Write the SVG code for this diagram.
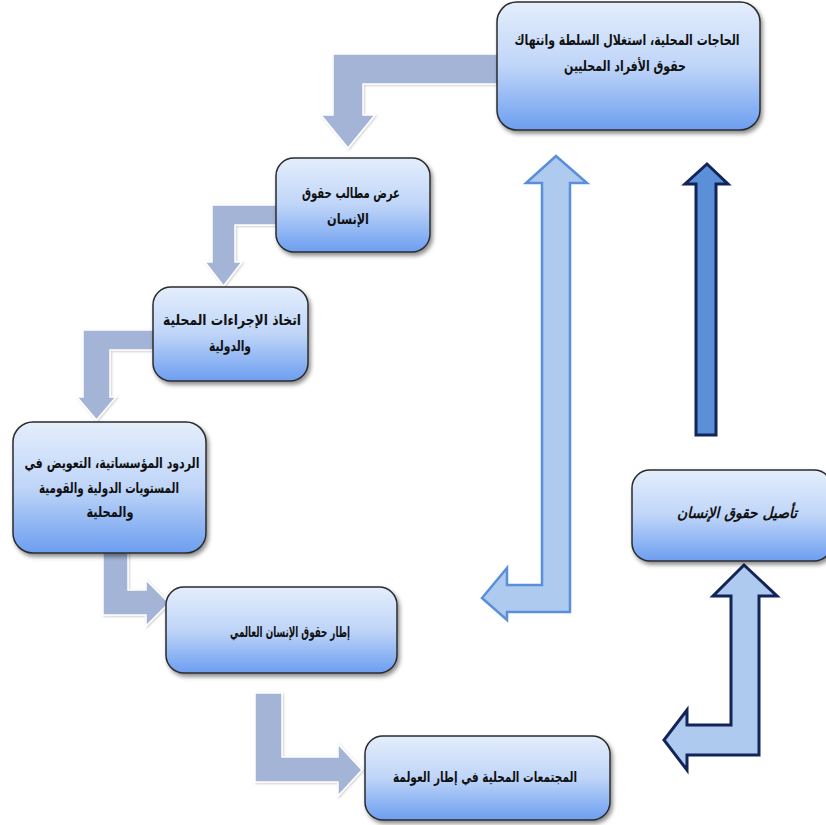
<svg xmlns="http://www.w3.org/2000/svg" width="826" height="825" viewBox="0 0 826 825">
<defs>
<linearGradient id="ng" x1="0" y1="0" x2="0" y2="1">
<stop offset="0" stop-color="#e4eefc"/>
<stop offset="0.5" stop-color="#bfd5f8"/>
<stop offset="1" stop-color="#6c9ef0"/>
</linearGradient>
<filter id="sh" x="-10%" y="-10%" width="130%" height="130%">
<feDropShadow dx="2" dy="3" stdDeviation="2" flood-color="#000" flood-opacity="0.45"/>
</filter>
<filter id="glow" x="-10%" y="-10%" width="130%" height="130%">
<feDropShadow dx="1" dy="1" stdDeviation="1" flood-color="#000" flood-opacity="0.2"/>
</filter>
</defs>
<style>
.node{fill:url(#ng);stroke:#2b2b2b;stroke-width:1.5;filter:url(#sh)}
.t{font-family:"DejaVu Sans","Noto Sans",sans-serif;font-weight:bold;font-size:15px;fill:#111;text-anchor:middle}
.it{font-style:italic}
.ga{fill:#a3b4d6;stroke:#ffffff;stroke-width:1.5;filter:url(#glow)}
.la{fill:#aecaee;stroke:#5a8fd9;stroke-width:2.5;stroke-linejoin:miter}
.da{fill:#5b8fd8;stroke:#13245a;stroke-width:3;stroke-linejoin:miter}
.dl{fill:#aecaee;stroke:#13245a;stroke-width:3;stroke-linejoin:miter}
</style>
<rect width="826" height="825" fill="#ffffff"/>
<g id="connectors">
<polygon class="ga" points="505,54 333,54 333,115 321,115 348,148 375,115 363,115 363,84 505,84"/>
<polygon class="ga" points="282,205 212,205 212,262 205,262 223.5,286 242,262 235,262 235,225 282,225"/>
<polygon class="ga" points="158,330 83,330 83,397 77,397 96.5,420 116,397 110,397 110,350 158,350"/>
<polygon class="ga" points="103,548 128,548 128,590 146,590 146,580 169,603 146,626 146,615 103,615"/>
<polygon class="ga" points="255,693 282,693 282,757 338,757 338,744 362,770 338,796 338,782 255,782"/>
<polygon class="la" points="556,156 587,183 570,183 570,612 507,612 507,620 482,598 507,568 507,585 542,585 542,183 526,183"/>
<polygon class="da" points="707,164 728,184 716,184 716,435 696,435 696,184 685,184"/>
<polygon class="dl" points="744,565 777,596 759,596 759,755 687,755 687,770 664,740 687,710 687,725 731,725 731,596 713,596"/>
</g>
<g id="n1"><rect class="node" x="497" y="2" width="263" height="128" rx="20"/>
<text class="t" x="627" y="45" textLength="225" lengthAdjust="spacingAndGlyphs">الحاجات المحلية، استغلال السلطة وانتهاك</text>
<text class="t" x="625" y="71" textLength="122" lengthAdjust="spacingAndGlyphs">حقوق الأفراد المحليين</text></g>
<g id="n2"><rect class="node" x="276" y="158" width="154" height="94" rx="18"/>
<text class="t" x="351" y="198" textLength="98" lengthAdjust="spacingAndGlyphs">عرض مطالب حقوق</text>
<text class="t" x="348" y="224" textLength="42" lengthAdjust="spacingAndGlyphs">الإنسان</text></g>
<g id="n3"><rect class="node" x="153" y="287" width="155" height="94" rx="18"/>
<text class="t" x="232" y="325" textLength="138" lengthAdjust="spacingAndGlyphs">اتخاذ الإجراءات المحلية</text>
<text class="t" x="230" y="351" textLength="42" lengthAdjust="spacingAndGlyphs">والدولية</text></g>
<g id="n4"><rect class="node" x="13" y="422" width="193" height="131" rx="20"/>
<text class="t" x="112" y="468" textLength="175" lengthAdjust="spacingAndGlyphs">الردود المؤسساتية، التعويض في</text>
<text class="t" x="109" y="493" textLength="140" lengthAdjust="spacingAndGlyphs">المستويات الدولية والقومية</text>
<text class="t" x="110" y="517" textLength="47" lengthAdjust="spacingAndGlyphs">والمحلية</text></g>
<g id="n5"><rect class="node" x="166" y="587" width="231" height="86" rx="18"/>
<text class="t" x="290" y="637" textLength="120" lengthAdjust="spacingAndGlyphs">إطار حقوق الإنسان العالمي</text></g>
<g id="n6"><rect class="node" x="365" y="736" width="245" height="84" rx="18"/>
<text class="t" x="485" y="782" textLength="184" lengthAdjust="spacingAndGlyphs">المجتمعات المحلية في إطار العولمة</text></g>
<g id="n7"><rect class="node" x="632" y="470" width="200" height="91" rx="18"/>
<text class="t it" x="737" y="518" textLength="120" lengthAdjust="spacingAndGlyphs">تأصيل حقوق الإنسان</text></g>
</svg>
